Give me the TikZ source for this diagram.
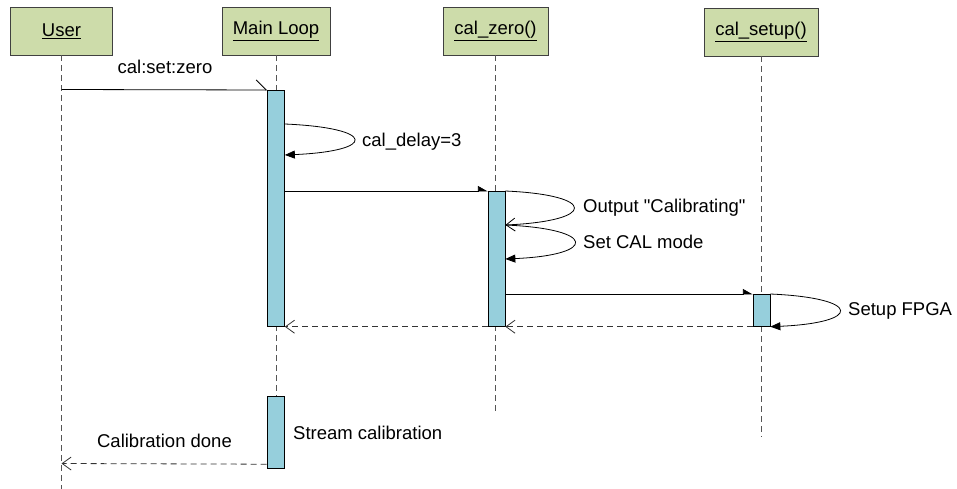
\documentclass[tikz,border=0pt]{standalone}
\usepackage{fontspec}
\setmainfont{Liberation Sans}
\newfontfamily\lblfont{Liberation Sans}
\usetikzlibrary{arrows.meta}
\definecolor{headfill}{HTML}{CDDCAA}
\definecolor{actfill}{HTML}{96CFDC}
\definecolor{lifegray}{HTML}{555555}
\begin{document}
\begin{tikzpicture}[x=1pt,y=-1pt,
  txt/.style={font=\lblfont\fontsize{18.5}{22}\selectfont},
  head/.style={txt, draw=black!75, fill=headfill, minimum height=48pt, inner sep=0pt, line width=0.8pt},
  act/.style={draw=black, fill=actfill, minimum width=17pt, inner sep=0pt, line width=0.7pt, anchor=north},
  life/.style={draw=lifegray, dash pattern=on 6pt off 4pt, line width=0.8pt},
  lbl/.style={txt, inner sep=0pt},
  msg/.style={draw=black, line width=0.8pt},
  ret/.style={draw=black!80, dash pattern=on 6pt off 4pt, line width=0.8pt, -{Straight Barb[length=9pt,width=13pt]}},
  fillhead/.style={-{Triangle[length=10pt,width=8pt]}},
  openhead/.style={-{Straight Barb[length=9pt,width=13pt]}},
  halfhead/.style={-{Triangle[left,length=9pt,width=10pt]}}
]
\useasboundingbox (0,0) rectangle (957,489);

% heads
\node[head, minimum width=102pt] (hU) at (61.5,31) {\underline{User}};
\node[head, minimum width=108pt] (hM) at (276,31) {\underline{Main Loop}};
\node[head, minimum width=105pt] (hZ) at (495.5,31) {\underline{cal\_zero()}};
\node[head, minimum width=114pt] (hS) at (761,32) {\underline{cal\_setup()}};

% lifeline ends
\coordinate (eU) at (61.5,489);
\coordinate (eM) at (276,396);
\coordinate (eZ) at (495.5,415);
\coordinate (eS) at (761,437);
\draw[life] (hU.south) -- (eU);
\draw[life] (hM.south) -- (eM);
\draw[life] (hZ.south) -- (eZ);
\draw[life] (hS.south) -- (eS);

% activations
\node[act, minimum height=236pt] (a1) at (276,90) {};
\node[act, minimum height=135pt] (a2) at (496.5,191) {};
\node[act, minimum height=32pt] (a3) at (761.5,294) {};
\node[act, minimum height=72pt] (a4) at (275.5,396) {};

% message 1
\coordinate (u1) at (61.5,89.5);
\draw[msg, -{Straight Barb[left,length=10pt,width=20pt]}] (u1) -- (a1.north west);
\node[lbl] (l1) at (165,67) {cal:set:zero};

% self loop cal_delay
\draw[msg, fillhead] ([yshift=-34pt]a1.north east) .. controls +(92,4) and +(92,-4) .. ([yshift=-65pt]a1.north east);
\node[lbl, anchor=west] (l2) at (362,142) {cal\_delay=3};

% message 2
\draw[msg, halfhead] ([yshift=-101pt]a1.north east) -- (a2.north west);

% loops on cal_zero
\draw[msg, openhead] (a2.north east) .. controls +(92,4) and +(92,-4) .. ([yshift=-34pt]a2.north east);
\node[lbl, anchor=west] (l3) at (583,208) {Output "Calibrating"};
\draw[msg, fillhead] ([yshift=-34pt]a2.north east) .. controls +(92,4) and +(92,-4) .. ([yshift=-68pt]a2.north east);
\node[lbl, anchor=west] (l4) at (583,242) {Set CAL mode};

% message 3
\draw[msg, halfhead] ([yshift=-103pt]a2.north east) -- (a3.north west);

% setup FPGA loop
\draw[msg, fillhead] (a3.north east) .. controls +(92,4) and +(92,-4) .. (a3.south east);
\node[lbl, anchor=west] (l5) at (848,311) {Setup FPGA};

% returns
\draw[ret] (a3.south west) -- (a2.south east);
\draw[ret] (a2.south west) -- (a1.south east);

% stream calibration
\node[lbl, anchor=west] (l6) at (293,433) {Stream calibration};
\coordinate (u2) at (61.5,463.5);
\draw[ret] ([yshift=4.5pt]a4.south west) -- (u2);
\node[lbl] (l7) at (164.5,441) {Calibration done};
\end{tikzpicture}
\end{document}
